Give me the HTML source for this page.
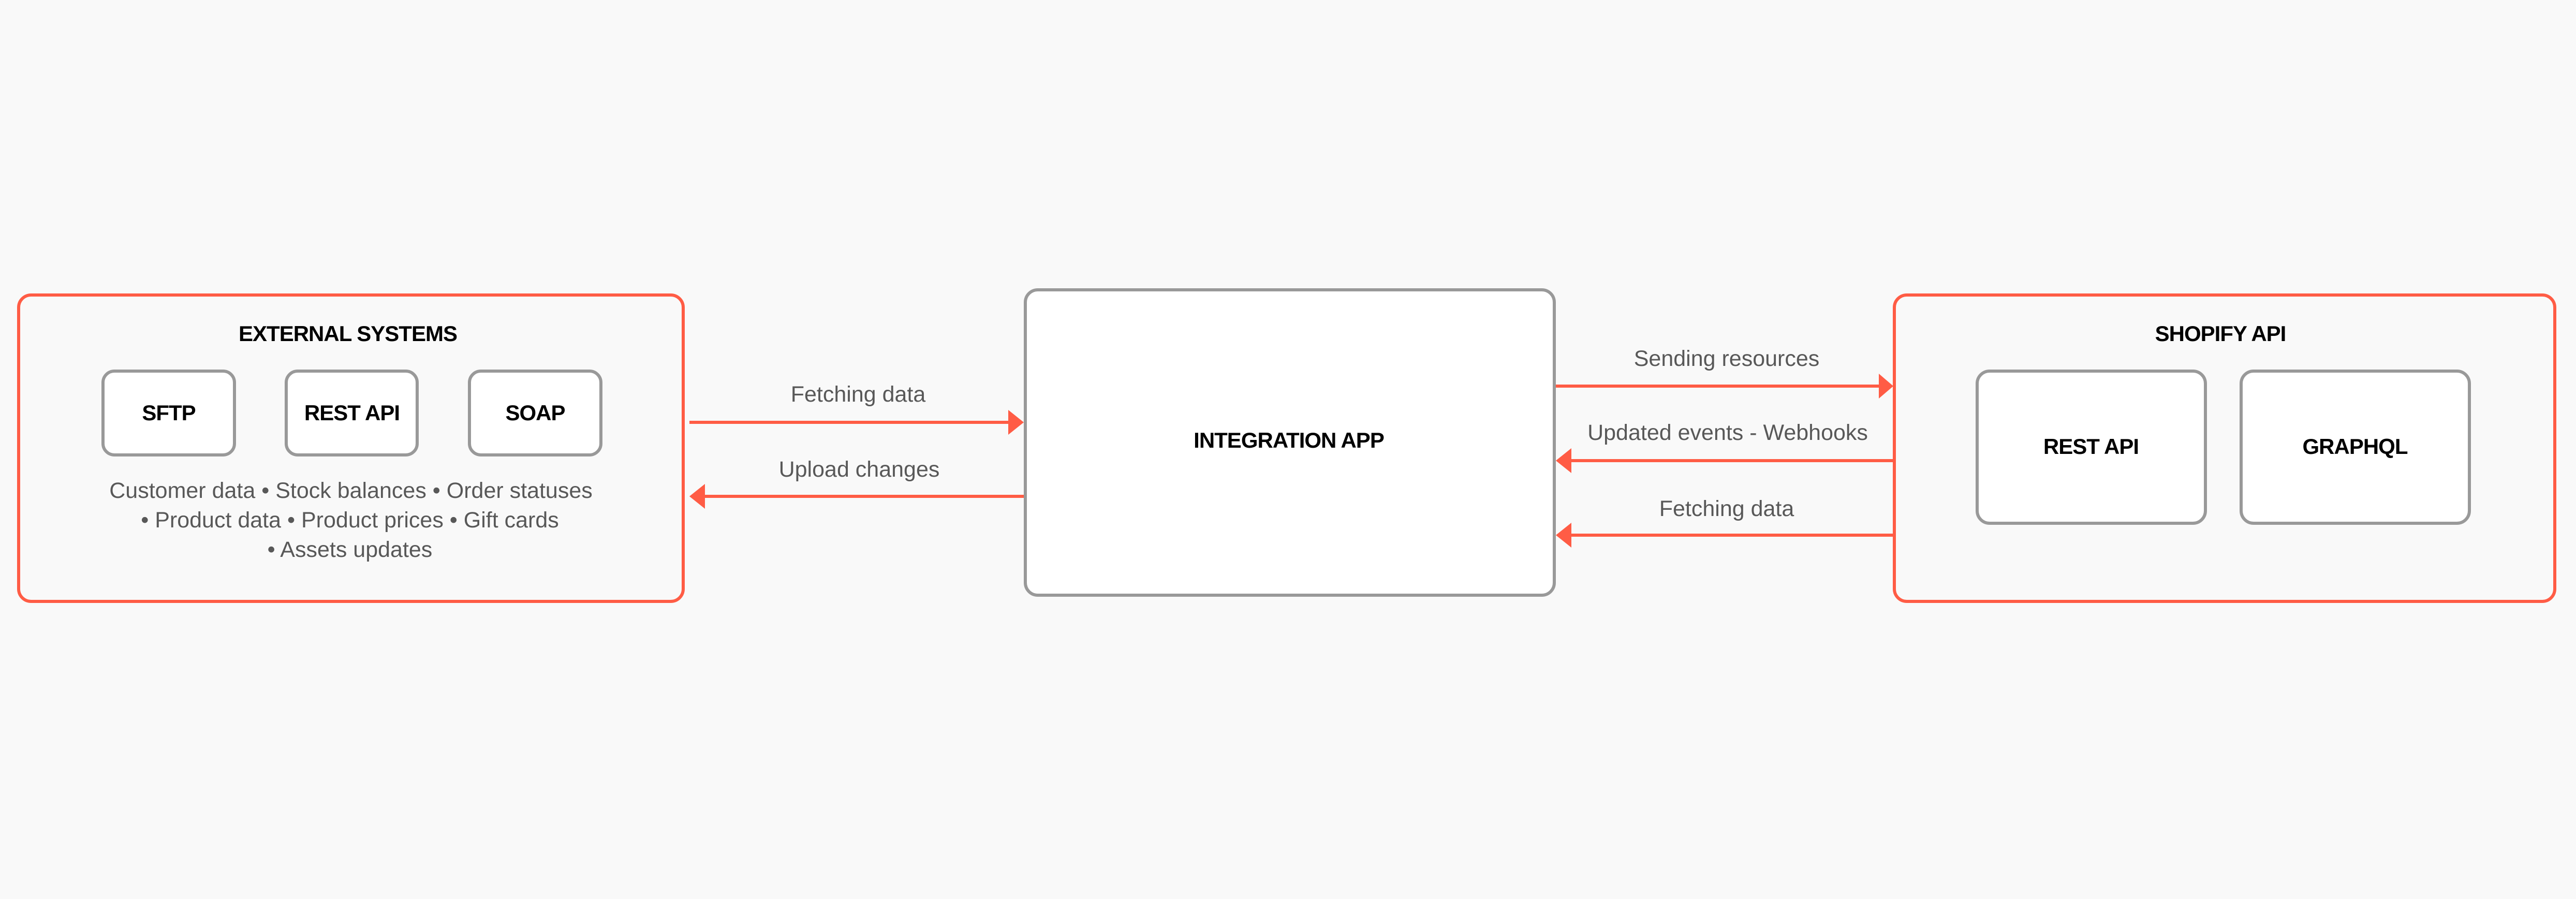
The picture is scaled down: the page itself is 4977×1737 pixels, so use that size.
<!DOCTYPE html>
<html><head><meta charset="utf-8"><style>
html,body{margin:0;padding:0;background:#f9f9f9;}
svg{display:block}
.t{font-family:"Liberation Sans",sans-serif;}
.b{font-weight:bold;fill:#000;font-size:42px;letter-spacing:-1px}
.g{fill:#585858;font-size:43px}
</style></head><body>
<svg width="4977" height="1737" viewBox="0 0 4977 1737" xmlns="http://www.w3.org/2000/svg">
<rect width="4977" height="1737" fill="#f9f9f9"/>
<!-- External systems -->
<rect x="36" y="570" width="1284" height="592" rx="24" fill="#f9f9f9" stroke="#ff5c45" stroke-width="6"/>
<text class="t b" x="672" y="659" text-anchor="middle">EXTERNAL SYSTEMS</text>
<rect x="199" y="717" width="254" height="162" rx="22" fill="#fff" stroke="#999" stroke-width="6"/>
<rect x="553" y="717" width="253" height="162" rx="22" fill="#fff" stroke="#999" stroke-width="6"/>
<rect x="907" y="717" width="254" height="162" rx="22" fill="#fff" stroke="#999" stroke-width="6"/>
<text class="t b" x="326" y="812" text-anchor="middle" font-size="40">SFTP</text>
<text class="t b" x="680" y="812" text-anchor="middle" font-size="40">REST API</text>
<text class="t b" x="1034" y="812" text-anchor="middle" font-size="40">SOAP</text>
<text class="t g" x="678" y="962" text-anchor="middle">Customer data • Stock balances • Order statuses</text>
<text class="t g" x="676" y="1019" text-anchor="middle">• Product data • Product prices • Gift cards</text>
<text class="t g" x="676" y="1076" text-anchor="middle">• Assets updates</text>
<!-- arrows left -->
<line x1="1332" y1="816" x2="1950" y2="816" stroke="#ff5c45" stroke-width="6"/>
<path d="M1948,792 L1978,816 L1948,840 Z" fill="#ff5c45"/>
<text class="t g" x="1658" y="776" text-anchor="middle">Fetching data</text>
<line x1="1360" y1="959" x2="1978" y2="959" stroke="#ff5c45" stroke-width="6"/>
<path d="M1362,935 L1332,959 L1362,983 Z" fill="#ff5c45"/>
<text class="t g" x="1660" y="921" text-anchor="middle">Upload changes</text>
<!-- integration -->
<rect x="1981" y="560" width="1022" height="590" rx="24" fill="#fff" stroke="#999" stroke-width="6"/>
<text class="t b" x="2490" y="865" text-anchor="middle">INTEGRATION APP</text>
<!-- arrows right -->
<line x1="3006" y1="746" x2="3632" y2="746" stroke="#ff5c45" stroke-width="6"/>
<path d="M3630,722 L3658,746 L3630,770 Z" fill="#ff5c45"/>
<text class="t g" x="3336" y="707" text-anchor="middle">Sending resources</text>
<line x1="3034" y1="890" x2="3660" y2="890" stroke="#ff5c45" stroke-width="6"/>
<path d="M3036,866 L3006,890 L3036,914 Z" fill="#ff5c45"/>
<text class="t g" x="3338" y="850" text-anchor="middle">Updated events - Webhooks</text>
<line x1="3034" y1="1034" x2="3660" y2="1034" stroke="#ff5c45" stroke-width="6"/>
<path d="M3036,1010 L3006,1034 L3036,1058 Z" fill="#ff5c45"/>
<text class="t g" x="3336" y="997" text-anchor="middle">Fetching data</text>
<!-- shopify -->
<rect x="3660" y="570" width="1276" height="592" rx="24" fill="#f9f9f9" stroke="#ff5c45" stroke-width="6"/>
<text class="t b" x="4290" y="659" text-anchor="middle">SHOPIFY API</text>
<rect x="3820" y="717" width="441" height="294" rx="24" fill="#fff" stroke="#999" stroke-width="6"/>
<rect x="4330" y="717" width="441" height="294" rx="24" fill="#fff" stroke="#999" stroke-width="6"/>
<text class="t b" x="4040" y="877" text-anchor="middle">REST API</text>
<text class="t b" x="4550" y="877" text-anchor="middle">GRAPHQL</text>
</svg>
</body></html>
